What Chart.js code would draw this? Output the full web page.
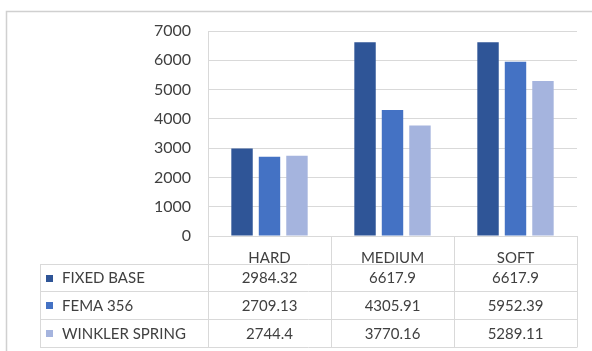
<!DOCTYPE html>
<html>
<head>
<meta charset="utf-8">
<script src="https://cdn.jsdelivr.net/npm/chart.js@4.4.1/dist/chart.umd.min.js"></script>
<style>
  html, body { margin: 0; padding: 0; background: #ffffff; }
  #myChart { display: block; }
</style>
</head>
<body>
<canvas id="myChart" width="592" height="351"></canvas>
<script>
// Data chart
const categories = ["HARD", "MEDIUM", "SOFT"];
const seriesNames = ["FIXED BASE", "FEMA 356", "WINKLER SPRING"];
const fixedBase = [2984.32, 6617.9, 6617.9];
const fema356 = [2709.13, 4305.91, 5952.39];
const winklerSpring = [2744.4, 3770.16, 5289.11];
const yTicks = [0, 1000, 2000, 3000, 4000, 5000, 6000, 7000];

const colors = ["#2F5597", "#4472C4", "#A5B4DE"];
const fontFamily = "Lato, 'Open Sans', sans-serif";
const gridColor = "#D9D9D9";
const rowHeight = 27.7;

// Plugin untuk bingkai luar dan tabel data di bawah grafik
const tablePlugin = {
    id: "dataTable",
    beforeDraw(chart) {
        const ctx = chart.ctx;
        ctx.save();
        ctx.strokeStyle = "#D0D0D0";
        ctx.lineWidth = 1.5;
        ctx.beginPath();
        ctx.moveTo(6.5, 351);
        ctx.lineTo(6.5, 11.5);
        ctx.lineTo(592, 11.5);
        ctx.stroke();
        ctx.restore();
    },
    afterDraw(chart) {
        const ctx = chart.ctx;
        const area = chart.chartArea;
        const xScale = chart.scales.x;
        const catWidth = (area.right - area.left) / categories.length;
        const tableLeft = 40;
        const top = area.bottom;
        const rows = seriesNames.length;
        const bottom = top + rowHeight * (rows + 1);

        ctx.save();
        ctx.strokeStyle = gridColor;
        ctx.lineWidth = 1;

        // Garis horizontal
        for (let r = 1; r <= rows + 1; r++) {
            const y = Math.round(top + rowHeight * r) + 0.5;
            ctx.beginPath();
            ctx.moveTo(tableLeft, y);
            ctx.lineTo(area.right, y);
            ctx.stroke();
        }
        // Garis vertikal
        ctx.beginPath();
        ctx.moveTo(tableLeft + 0.5, Math.round(top + rowHeight) + 0.5);
        ctx.lineTo(tableLeft + 0.5, Math.round(bottom) + 0.5);
        ctx.stroke();
        for (let c = 0; c <= categories.length; c++) {
            const x = Math.round(area.left + catWidth * c) + 0.5;
            ctx.beginPath();
            ctx.moveTo(x, c === 0 ? area.top : top);
            ctx.lineTo(x, Math.round(bottom) + 0.5);
            ctx.stroke();
        }

        // Isi tabel
        const allSeries = [fixedBase, fema356, winklerSpring];
        ctx.font = "15px " + fontFamily;
        ctx.textBaseline = "middle";
        for (let r = 0; r < rows; r++) {
            const yMid = top + rowHeight * (r + 1.5);
            ctx.fillStyle = colors[r];
            ctx.fillRect(46, Math.round(yMid) - 3, 7, 7);
            ctx.fillStyle = "#404040";
            ctx.textAlign = "left";
            ctx.fillText(seriesNames[r], 62, yMid + 1);
            ctx.textAlign = "center";
            allSeries[r].forEach((v, i) => {
                ctx.fillText(String(v), xScale.getPixelForTick(i), yMid + 1);
            });
        }
        ctx.restore();
    }
};

const ctx = document.getElementById("myChart").getContext("2d");
const myChart = new Chart(ctx, {
    type: "bar",
    data: {
        labels: categories,
        datasets: [
            { label: seriesNames[0], data: fixedBase, backgroundColor: colors[0] },
            { label: seriesNames[1], data: fema356, backgroundColor: colors[1] },
            { label: seriesNames[2], data: winklerSpring, backgroundColor: colors[2] }
        ]
    },
    options: {
        responsive: false,
        animation: false,
        devicePixelRatio: 1,
        layout: { padding: { top: 31, right: 15, left: 0, bottom: 0 } },
        datasets: { bar: { categoryPercentage: 0.67, barPercentage: 0.78 } },
        plugins: { legend: { display: false }, tooltip: { enabled: false } },
        scales: {
            x: {
                afterFit(scale) { scale.height = 115; },
                grid: { display: false },
                border: { display: false },
                ticks: {
                    color: "#404040",
                    font: { family: fontFamily, size: 15 },
                    padding: 5,
                    maxRotation: 0
                }
            },
            y: {
                min: 0,
                max: 7000,
                afterFit(scale) { scale.width = 208; },
                afterBuildTicks(scale) { scale.ticks = yTicks.map(v => ({ value: v })); },
                grid: { color: gridColor, drawTicks: false },
                border: { display: false },
                ticks: {
                    color: "#404040",
                    font: { family: fontFamily, size: 16 },
                    padding: 17,
                    callback: v => String(v)
                }
            }
        }
    },
    plugins: [tablePlugin]
});
</script>
</body>
</html>
